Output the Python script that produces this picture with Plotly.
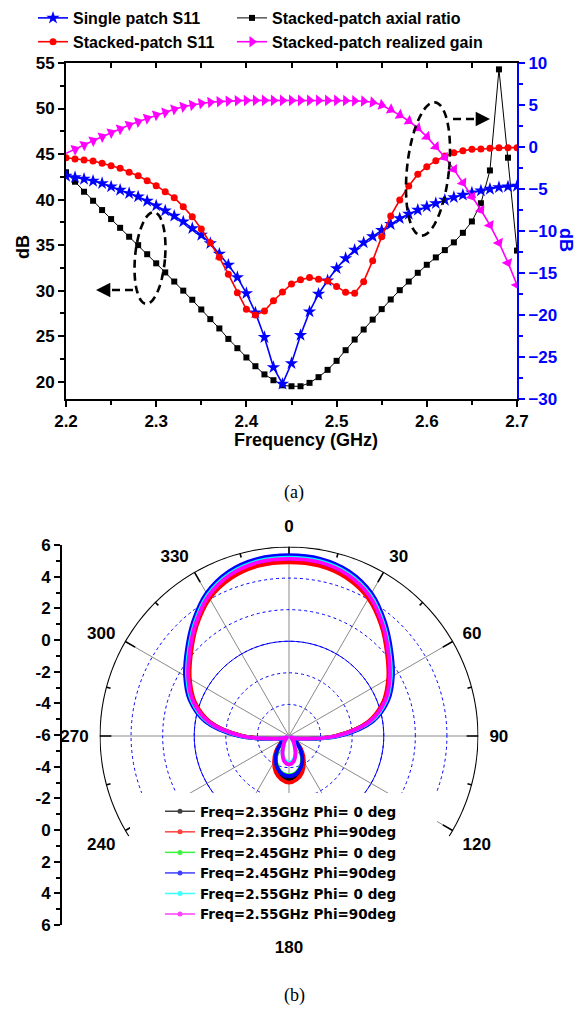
import numpy as np
import plotly.graph_objects as go

W, H = 588, 1013
FONT = "Liberation Sans"

# ---------------- (a) data ----------------
freq = [round(2.20 + 0.01 * i, 2) for i in range(51)]

axial_ratio = [43.0, 41.96, 40.86, 39.87, 38.85, 37.86, 36.9, 35.92, 35.0, 34.0,
               33.0, 32.0, 31.0, 30.0, 29.0, 27.93, 26.87, 25.85, 24.7, 23.68,
               22.66, 21.7, 20.8, 20.16, 19.6, 19.5, 19.5, 19.87, 20.5, 21.3,
               22.29, 23.46, 24.63, 25.73, 26.82, 27.97, 29.03, 30.05, 31.0, 31.96,
               32.84, 33.65, 34.45, 35.3, 36.35, 37.6, 39.6, 43.2, 54.3, 44.6, 34.4]

single_s11 = [-3.45, -3.61, -3.81, -4.05, -4.33, -4.72, -5.12, -5.52, -5.91, -6.43,
              -6.98, -7.58, -8.21, -8.89, -9.68, -10.48, -11.47, -12.74, -14.05, -15.52,
              -17.42, -19.72, -22.65, -26.23, -28.2, -25.75, -22.4, -19.6, -17.5, -15.9,
              -14.45, -13.25, -12.26, -11.39, -10.65, -9.9, -9.2, -8.5, -7.98, -7.5,
              -7.1, -6.71, -6.31, -5.99, -5.71, -5.44, -5.2, -5.0, -4.8, -4.72, -4.64]

stacked_s11 = [-1.27, -1.43, -1.55, -1.67, -1.94, -2.22, -2.54, -3.01, -3.41, -4.01,
               -4.6, -5.32, -6.03, -7.1, -8.29, -9.76, -11.39, -13.13, -15.16, -17.34,
               -19.33, -20.0, -19.52, -18.3, -17.25, -16.3, -15.8, -15.55, -15.75, -15.95,
               -16.6, -17.3, -17.42, -16.03, -13.53, -10.67, -8.21, -6.31, -4.64, -3.25,
               -2.34, -1.63, -1.07, -0.68, -0.44, -0.28, -0.24, -0.16, -0.08, -0.08, -0.08]

realized_gain = [-0.75, -0.28, 0.24, 0.75, 1.23, 1.71, 2.14, 2.62, 3.01, 3.41,
                 3.81, 4.13, 4.49, 4.8, 5.0, 5.2, 5.32, 5.4, 5.48, 5.52,
                 5.55, 5.55, 5.55, 5.55, 5.55, 5.55, 5.55, 5.55, 5.55, 5.55,
                 5.55, 5.52, 5.5, 5.45, 5.32, 5.0, 4.45, 3.8, 3.1, 2.25,
                 1.23, 0.04, -1.23, -2.66, -4.25, -5.91, -7.5, -9.29, -11.39, -13.77, -16.43]

x_tickvals = [2.2, 2.3, 2.4, 2.5, 2.6, 2.7]
yl_tickvals = [20, 25, 30, 35, 40, 45, 50, 55]
yr_tickvals = [-30, -25, -20, -15, -10, -5, 0, 5, 10]

# ---------------- (b) data (gain in dB, every 10 deg, 0..360) ----------------
theta_deg = [0, 10, 20, 30, 40, 50, 60, 70, 80, 90, 100, 110, 120, 130, 140, 150, 160, 170, 180,
             190, 200, 210, 220, 230, 240, 250, 260, 270, 280, 290, 300, 310, 320, 330, 340, 350, 360]

p235_phi0 = [5.05, 5.0, 4.7, 4.1, 3.15, 2.15, 1.3, 0.4, -0.9, -3.05, -5.0, -5.55, -5.75, -5.4, -4.85,
             -4.3, -3.75, -3.4, -3.25, -3.4, -3.75, -4.3, -4.85, -5.4, -5.75, -5.55, -5.0, -3.05,
             -0.9, 0.4, 1.3, 2.15, 3.15, 4.1, 4.7, 5.0, 5.05]
p235_phi90 = [5.0, 4.95, 4.65, 4.05, 3.1, 2.1, 1.25, 0.35, -0.95, -3.1, -5.0, -5.55, -5.7, -5.3, -4.7,
              -4.1, -3.55, -3.2, -3.05, -3.2, -3.55, -4.1, -4.7, -5.3, -5.7, -5.55, -5.0, -3.1,
              -0.95, 0.35, 1.25, 2.1, 3.1, 4.05, 4.65, 4.95, 5.0]
p245_phi0 = [5.37, 5.32, 5.02, 4.37, 3.37, 2.37, 1.52, 0.62, -0.68, -2.88, -4.95, -5.5, -5.72, -5.42, -4.9,
             -4.35, -3.9, -3.6, -3.5, -3.6, -3.9, -4.35, -4.9, -5.42, -5.72, -5.5, -4.95, -2.88,
             -0.68, 0.62, 1.52, 2.37, 3.37, 4.37, 5.02, 5.32, 5.37]
p245_phi90 = [5.45, 5.4, 5.1, 4.45, 3.45, 2.45, 1.6, 0.7, -0.6, -2.8, -4.9, -5.5, -5.7, -5.4, -4.85,
              -4.3, -3.85, -3.55, -3.45, -3.55, -3.85, -4.3, -4.85, -5.4, -5.7, -5.5, -4.9, -2.8,
              -0.6, 0.7, 1.6, 2.45, 3.45, 4.45, 5.1, 5.4, 5.45]
p255_phi0 = [5.3, 5.25, 4.95, 4.3, 3.3, 2.3, 1.45, 0.55, -0.75, -2.95, -5.0, -5.6, -5.85, -5.8, -5.6,
             -5.3, -4.8, -4.45, -4.3, -4.45, -4.8, -5.3, -5.6, -5.8, -5.85, -5.6, -5.0, -2.95,
             -0.75, 0.55, 1.45, 2.3, 3.3, 4.3, 4.95, 5.25, 5.3]
p255_phi90 = [5.22, 5.17, 4.87, 4.22, 3.22, 2.22, 1.37, 0.47, -0.83, -3.0, -5.0, -5.6, -5.85, -5.8, -5.6,
              -5.3, -4.8, -4.35, -4.2, -4.35, -4.8, -5.3, -5.6, -5.8, -5.85, -5.6, -5.0, -3.0,
              -0.83, 0.47, 1.37, 2.22, 3.22, 4.22, 4.87, 5.17, 5.22]

pattern_names = ["Freq=2.35GHz Phi= 0 deg", "Freq=2.35GHz Phi=90deg",
                 "Freq=2.45GHz Phi= 0 deg", "Freq=2.45GHz Phi=90deg",
                 "Freq=2.55GHz Phi= 0 deg", "Freq=2.55GHz Phi=90deg"]
pattern_data = [p235_phi0, p235_phi90, p245_phi0, p245_phi90, p255_phi0, p255_phi90]
pattern_colors = ["black", "red", "#00ee00", "blue", "cyan", "magenta"]

ang_tickvals = [0, 30, 60, 90, 120, 150, 180, 210, 240, 270, 300, 330]
ang_ticktext = ["0", "30", "60", "90", "120", "", "180", "", "240", "270", "300", "330"]
arc_tick_angles = list(range(-120, 121, 15))  # tick marks on the drawn outer arc
rad_scale_vals = [-12, -10, -8, -6, -4, -2, 0, 2, 4, 6, 8, 10, 12]
rad_scale_text = [str(abs(v) - 6) for v in rad_scale_vals]


def px(x):
    return x / W


def py(y):
    return 1 - y / H


bold = dict(family=FONT, size=17, color="black", weight="bold")

fig = go.Figure()

# ---- (a) traces ----
fig.add_trace(go.Scatter(x=freq, y=single_s11, name="Single patch S11", yaxis="y2",
                         mode="lines+markers", line=dict(color="blue", width=1.6),
                         marker=dict(symbol="star", size=10, color="blue"),
                         legend="legend"))
fig.add_trace(go.Scatter(x=freq, y=axial_ratio, name="Stacked-patch axial ratio", yaxis="y",
                         mode="lines+markers", line=dict(color="black", width=1),
                         marker=dict(symbol="square", size=6, color="black"),
                         legend="legend3"))
fig.add_trace(go.Scatter(x=freq, y=stacked_s11, name="Stacked-patch S11", yaxis="y2",
                         mode="lines+markers", line=dict(color="red", width=1.6),
                         marker=dict(symbol="circle", size=7, color="red"),
                         legend="legend"))
fig.add_trace(go.Scatter(x=freq, y=realized_gain, name="Stacked-patch realized gain", yaxis="y2",
                         mode="lines+markers", line=dict(color="magenta", width=1.6),
                         marker=dict(symbol="triangle-up", size=10, color="magenta",
                                     angleref="previous"),
                         legend="legend3"))
# top mirror axis carrier
fig.add_trace(go.Scatter(x=[], y=[], xaxis="x4", yaxis="y", showlegend=False, hoverinfo="skip"))

# ---- (b) traces ----
ring_theta = list(np.linspace(0, 360, 181))
fig.add_trace(go.Scatterpolar(r=[0] * len(ring_theta), theta=ring_theta, mode="lines",
                              line=dict(color="blue", width=1), showlegend=False,
                              hoverinfo="skip", subplot="polar"))
arc_theta = list(np.linspace(-122, 122, 245))
fig.add_trace(go.Scatterpolar(r=[6] * len(arc_theta), theta=arc_theta, mode="lines",
                              line=dict(color="black", width=2.2), showlegend=False,
                              hoverinfo="skip", subplot="polar", cliponaxis=False))
tick_r, tick_t = [], []
for a in arc_tick_angles:
    inner = 6 - (0.75 if a % 30 == 0 else 0.3)
    tick_r += [inner, 6, None]
    tick_t += [a, a, None]
fig.add_trace(go.Scatterpolar(r=tick_r, theta=tick_t, mode="lines",
                              line=dict(color="black", width=1.6), showlegend=False,
                              hoverinfo="skip", subplot="polar", connectgaps=False))
for name, vals, col in zip(pattern_names, pattern_data, pattern_colors):
    fig.add_trace(go.Scatterpolar(r=vals, theta=theta_deg, mode="lines", name=name,
                                  line=dict(color=col, width=3.8, shape="spline", smoothing=1),
                                  showlegend=False, subplot="polar"))
for name, col in zip(pattern_names, pattern_colors):
    fig.add_trace(go.Scatterpolar(r=[None], theta=[None], mode="lines+markers", name=name,
                                  line=dict(color=col, width=1.5),
                                  marker=dict(size=5, color=col, symbol="circle"),
                                  opacity=0.75, legend="legend2", subplot="polar"))
# radial scale axis carrier
fig.add_trace(go.Scatter(x=[], y=[], xaxis="x3", yaxis="y3", showlegend=False, hoverinfo="skip"))

# ---------------- layout ----------------
ax_common = dict(showgrid=False, zeroline=False, showline=True, linewidth=2,
                 ticks="outside", ticklen=6, tickwidth=2, automargin=False)

leg_font = dict(family=FONT, size=16, color="black", weight="bold")

fig.update_layout(
    width=W, height=H, margin=dict(l=0, r=0, t=0, b=0, autoexpand=False),
    paper_bgcolor="white", plot_bgcolor="white",
    font=dict(family=FONT, size=16, color="black"),
    xaxis=dict(domain=[px(66), px(517)], range=[2.2, 2.7], anchor="y",
               tickvals=x_tickvals, ticktext=[f"{v:.1f}" for v in x_tickvals],
               linecolor="black", tickcolor="black", tickfont=bold,
               minor=dict(dtick=0.05, ticklen=4, tickwidth=2, ticks="outside", tickcolor="black"),
               **ax_common),
    xaxis4=dict(overlaying="x", side="top", range=[2.2, 2.7], anchor="y",
                showline=True, linewidth=2, linecolor="black", ticks="inside",
                tick0=2.2, dtick=0.05, ticklen=5, tickwidth=1.5, tickcolor="black",
                showticklabels=False, showgrid=False, zeroline=False, automargin=False),
    yaxis=dict(domain=[py(399), py(63)], range=[18.1, 55], anchor="x",
               tickvals=yl_tickvals, linecolor="black", tickcolor="black", tickfont=bold,
               minor=dict(dtick=2.5, ticklen=4, tickwidth=2, ticks="outside", tickcolor="black"),
               **ax_common),
    yaxis2=dict(overlaying="y", side="right", range=[-30, 10], anchor="x",
                tickvals=yr_tickvals, linecolor="blue", tickcolor="blue",
                tickfont=dict(family=FONT, size=17, color="blue", weight="bold"),
                minor=dict(dtick=2.5, ticklen=4, tickwidth=2, ticks="outside", tickcolor="blue"),
                **ax_common),
    xaxis3=dict(domain=[px(62), px(66)], visible=False, anchor="y3", range=[0, 1], automargin=False),
    yaxis3=dict(domain=[py(925), py(545)], range=[-12, 12], anchor="x3", side="left",
                tickvals=rad_scale_vals, ticktext=rad_scale_text,
                linecolor="black", tickcolor="black", tickfont=bold,
                minor=dict(dtick=1, ticklen=4, tickwidth=2, ticks="outside", tickcolor="black"),
                **ax_common),
    polar=dict(
        domain=dict(x=[px(99.5), px(478.5)], y=[py(925.5), py(546.5)]),
        bgcolor="white",
        angularaxis=dict(rotation=90, direction="clockwise", tickmode="array",
                         tickvals=ang_tickvals, ticktext=ang_ticktext,
                         showline=False, ticks="outside", ticklen=7, tickwidth=1,
                         tickcolor="rgba(0,0,0,0)", showgrid=True, gridcolor="#8a8a8a",
                         gridwidth=1, tickfont=bold),
        radialaxis=dict(range=[-6, 6], tickvals=[-4, -2, 0, 2, 4], showticklabels=False,
                        ticks="", showline=False, showgrid=True, gridcolor="blue",
                        griddash="dot", gridwidth=1),
    ),
    legend=dict(x=px(33), y=py(1), xanchor="left", yanchor="top", bgcolor="rgba(0,0,0,0)",
                font=leg_font, tracegroupgap=0, traceorder="normal"),
    legend3=dict(x=px(232), y=py(1), xanchor="left", yanchor="top", bgcolor="rgba(0,0,0,0)",
                 font=leg_font, tracegroupgap=0, traceorder="normal"),
    legend2=dict(x=px(160), y=py(796), xanchor="left", yanchor="top", bgcolor="white",
                 font=dict(family="DejaVu Sans", size=13.5, color="black", weight="bold"),
                 tracegroupgap=0),
    showlegend=True,
)

# ---- decorations ----
shapes = []


def ellipse_path(cx, cy, a, b, phi_deg):
    t = np.linspace(0, 2 * np.pi, 73)
    phi = np.radians(phi_deg)
    u, v = a * np.cos(t), b * np.sin(t)
    xs = cx + u * np.cos(phi) - v * np.sin(phi)
    ys = cy + u * np.sin(phi) + v * np.cos(phi)
    pts = [f"{px(x):.5f},{py(y):.5f}" for x, y in zip(xs, ys)]
    return "M " + " L ".join(pts) + " Z"


dash_line = dict(color="black", width=2.6, dash="8px,5px")
shapes.append(dict(type="path", xref="paper", yref="paper", path=ellipse_path(150, 258, 15, 46, 5),
                   line=dash_line))
shapes.append(dict(type="path", xref="paper", yref="paper", path=ellipse_path(428, 169, 21, 67, 6),
                   line=dash_line))
shapes.append(dict(type="line", xref="paper", yref="paper", x0=px(133), y0=py(290), x1=px(106), y1=py(290),
                   line=dash_line))
shapes.append(dict(type="line", xref="paper", yref="paper", x0=px(453), y0=py(119), x1=px(478), y1=py(119),
                   line=dash_line))
# white box behind polar legend (hides grid)
shapes.append(dict(type="rect", xref="paper", yref="paper", x0=px(130), x1=px(437),
                   y0=py(930), y1=py(793), fillcolor="white", line=dict(width=0), layer="above"))
fig.update_layout(shapes=shapes)

ann = []
ann.append(dict(xref="paper", yref="paper", x=px(96), y=py(290), ax=14, ay=0, text="",
                showarrow=True, arrowhead=2, arrowsize=1.3, arrowwidth=2.2, arrowcolor="black"))
ann.append(dict(xref="paper", yref="paper", x=px(490), y=py(119), ax=-14, ay=0, text="",
                showarrow=True, arrowhead=2, arrowsize=1.3, arrowwidth=2.2, arrowcolor="black"))
ann.append(dict(xref="paper", yref="paper", x=px(23), y=py(247), text="dB", textangle=-90,
                xanchor="center", yanchor="middle",
                showarrow=False, font=dict(family=FONT, size=18, color="black", weight="bold")))
ann.append(dict(xref="paper", yref="paper", x=px(566), y=py(240), text="dB", textangle=90,
                xanchor="center", yanchor="middle",
                showarrow=False, font=dict(family=FONT, size=18, color="blue", weight="bold")))
ann.append(dict(xref="paper", yref="paper", x=px(306), y=py(440), text="Frequency (GHz)",
                xanchor="center", yanchor="middle",
                showarrow=False, font=dict(family=FONT, size=18, color="black", weight="bold")))
ann.append(dict(xref="paper", yref="paper", x=px(294), y=py(492), text="(a)", showarrow=False,
                xanchor="center", yanchor="middle",
                font=dict(family="Liberation Serif", size=18, color="black")))
ann.append(dict(xref="paper", yref="paper", x=px(294), y=py(995), text="(b)", showarrow=False,
                xanchor="center", yanchor="middle",
                font=dict(family="Liberation Serif", size=18, color="black")))
fig.update_layout(annotations=ann)

fig.write_html("out.html", post_script="document.body.style.margin='0';",
               config={"displayModeBar": False})
